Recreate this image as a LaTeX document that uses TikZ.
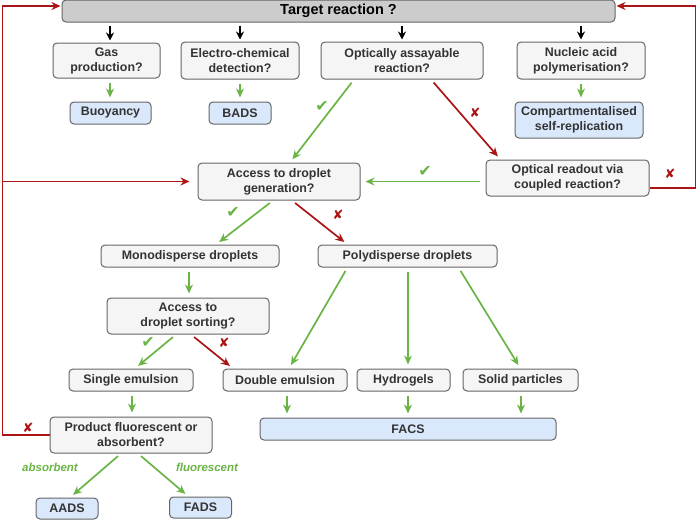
\documentclass[tikz,border=0pt]{standalone}
\usepackage{fontspec}
\setmainfont{Liberation Sans}
\newfontfamily\marksfont{DejaVu Sans}
\usetikzlibrary{arrows.meta,calc}
\definecolor{boxline}{RGB}{102,102,102}
\definecolor{boxfill}{RGB}{245,245,245}
\definecolor{bluefill}{RGB}{218,232,252}
\definecolor{topfill}{RGB}{204,204,204}
\definecolor{txt}{RGB}{51,51,51}
\definecolor{okgreen}{RGB}{106,180,70}
\definecolor{nored}{RGB}{170,20,20}
\tikzstyle{qbox}=[draw=boxline, fill=boxfill, rounded corners=4pt, line width=1pt, text=txt, font=\fontsize{12.4}{15}\selectfont\bfseries, align=center, inner sep=0pt]
\tikzstyle{rbox}=[qbox, fill=bluefill]
\tikzstyle{tbox}=[qbox, fill=topfill, text=black, font=\fontsize{14.5}{16}\selectfont\bfseries]
\tikzstyle{kE}=[shorten <=3pt, shorten >=2pt, -{Stealth[length=8pt,width=8pt]}, line width=1.7pt, black]
\tikzstyle{gE}=[shorten <=4pt, shorten >=4pt, -{Stealth[length=9pt,width=8pt]}, line width=1.7pt, okgreen]
\tikzstyle{rE}=[shorten <=4pt, shorten >=4pt, -{Stealth[length=9pt,width=8pt]}, line width=1.7pt, nored]
\tikzstyle{okM}=[text=okgreen, font=\marksfont\fontsize{16}{16}\selectfont]
\tikzstyle{noM}=[text=nored, font=\marksfont\fontsize{13}{13}\selectfont]
\tikzstyle{wayL}=[text=okgreen, font=\fontsize{11.5}{13}\selectfont\bfseries\itshape]
\begin{document}
\begin{tikzpicture}[x=1pt, y=-1pt]
    \useasboundingbox (0,0) rectangle (696,520);
    %%%%%  Pregunta inicial  %%%%%
    \node (target) [tbox, minimum width=553pt, minimum height=22pt] at (338.5,11) {Target reaction ?};
    \node (gas) [qbox, minimum width=107pt, minimum height=35pt] at (106.5,60.5) {Gas\\production?};
    \node (electro) [qbox, minimum width=118pt, minimum height=37pt] at (240,60.5) {Electro-chemical\\detection?};
    \node (optical) [qbox, minimum width=162pt, minimum height=37pt] at (402,60.5) {Optically assayable\\reaction?};
    \node (nucleic) [qbox, minimum width=128pt, minimum height=37pt] at (581,60.5) {Nucleic acid\\polymerisation?};
    \node (buoy) [rbox, minimum width=81pt, minimum height=22pt] at (110.5,113) {Buoyancy};
    \node (bads) [rbox, minimum width=62pt, minimum height=22pt] at (240,113) {BADS};
    \node (comp) [rbox, minimum width=128pt, minimum height=36pt] at (579,120) {Compartmentalised\\self-replication};

    %%%%%  Gotas  %%%%%
    \node (accgen) [qbox, minimum width=162pt, minimum height=37pt] at (279,181.5) {Access to droplet\\generation?};
    \node (readout) [qbox, minimum width=163pt, minimum height=36pt] at (567.5,178) {Optical readout via\\coupled reaction?};
    \node (mono) [qbox, minimum width=178pt, minimum height=22pt] at (190,256) {Monodisperse droplets};
    \node (poly) [qbox, minimum width=179pt, minimum height=22pt] at (407.5,256) {Polydisperse droplets};
    \node (accsort) [qbox, minimum width=162pt, minimum height=36pt] at (188,316) {Access to\\droplet sorting?};
    \node (single) [qbox, minimum width=124pt, minimum height=22pt] at (131,380) {Single emulsion};
    \node (double) [qbox, minimum width=124pt, minimum height=22pt] at (285,380) {Double emulsion};
    \node (hydro) [qbox, minimum width=93pt, minimum height=22pt] at (403.5,380) {Hydrogels};
    \node (solid) [qbox, minimum width=115pt, minimum height=22pt] at (520.5,380) {Solid particles};
    \node (facs) [rbox, minimum width=296pt, minimum height=22pt] at (408,429) {FACS};
    \node (product) [qbox, minimum width=162pt, minimum height=36pt] at (131,435) {Product fluorescent or\\absorbent?};
    \node (aads) [rbox, minimum width=62pt, minimum height=21pt] at (67,508.5) {AADS};
    \node (fads) [rbox, minimum width=62pt, minimum height=21pt] at (200.5,507.5) {FADS};

    %%%%%  Flechas negras  %%%%%
    \draw [kE] ([xshift=-0.5pt]target.south -| buoy.north) to ([xshift=-0.5pt]gas.north -| buoy.north);
    \draw [kE] (target.south -| electro.north) to (electro.north);
    \draw [kE] (target.south -| optical.north) to (optical.north);
    \draw [kE] (target.south -| nucleic.north) to (nucleic.north);

    %%%%%  Flechas verdes  %%%%%
    \draw [gE] ([xshift=-0.5pt]gas.south -| buoy.north) to ([xshift=-0.5pt]buoy.north);
    \draw [gE] (electro.south) to (bads.north);
    \draw [gE] (nucleic.south) to (nucleic.south |- comp.north);
    \draw [gE] ([xshift=-48pt]optical.south) to ([xshift=11pt]accgen.north);
    \draw [gE, shorten <=6pt, shorten >=5pt] (readout.west |- accgen.east) to (accgen.east);
    \draw [gE] ([xshift=-6pt]accgen.south) to ([xshift=26pt]mono.north);
    \draw [gE] ([xshift=-1pt]mono.south) to ([xshift=1pt]accsort.north);
    \draw [gE] ([xshift=-12pt]accsort.south) to ([xshift=4pt]single.north);
    \draw [gE] ([xshift=-60pt]poly.south) to ([xshift=4pt]double.north);
    \draw [gE] ([xshift=0.5pt]poly.south) to ([xshift=0.5pt]poly.south |- hydro.north);
    \draw [gE] ([xshift=51pt]poly.south) to (solid.north);
    \draw [gE] ([xshift=1pt]single.south) to ([xshift=1pt]product.north);
    \draw [gE] ([xshift=2pt]double.south) to ([xshift=2pt]double.south |- facs.north);
    \draw [gE] (hydro.south -| facs.north) to (facs.north);
    \draw [gE] ([xshift=0.5pt]solid.south) to ([xshift=0.5pt]solid.south |- facs.north);
    \draw [gE] ([xshift=-10pt]product.south) to ([xshift=3pt]aads.north);
    \draw [gE] ([xshift=7pt]product.south) to ([xshift=-12pt]fads.north);

    %%%%%  Flechas rojas  %%%%%
    \draw [rE] ([xshift=29pt]optical.south) to ([xshift=-67pt]readout.north);
    \draw [rE] ([xshift=13pt]accgen.south) to ([xshift=-60pt]poly.north);
    \draw [rE] ([xshift=3pt]accsort.south) to ([xshift=-52pt]double.north);
    \draw [rE, shorten <=0pt, shorten >=1pt] ([yshift=-10pt]readout.east) -- ++(46,0) |- ([yshift=5pt]target.east);
    \draw [rE, shorten <=0pt, shorten >=1pt] (product.west) -- ++(-47,0) coordinate (loopL) |- ([yshift=5pt]target.west);
    \draw [rE, shorten <=0pt, shorten >=8pt] (loopL |- accgen.west) to (accgen.west);

    %%%%%  Marcas  %%%%%
    \node (m1) [okM] at (322,106) {✔};
    \node (m2) [noM] at (475,113) {✘};
    \node (m3) [okM] at (425,171) {✔};
    \node (m4) [noM] at (670,174) {✘};
    \node (m5) [okM] at (233,212) {✔};
    \node (m6) [noM] at (338,215) {✘};
    \node (m7) [okM] at (148,342) {✔};
    \node (m8) [noM] at (224,343) {✘};
    \node (m9) [noM] at (28,428) {✘};
    \node (L1) [wayL] at (50,467) {absorbent};
    \node (L2) [wayL] at (207,467) {fluorescent};
\end{tikzpicture}
\end{document}
